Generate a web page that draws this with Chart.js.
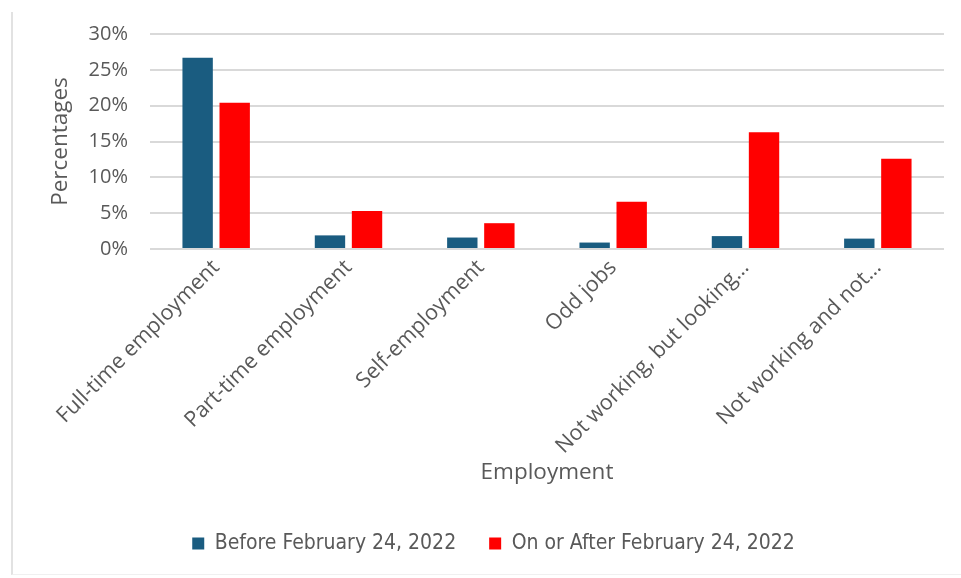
<!DOCTYPE html>
<html>
<head>
<meta charset="utf-8">
<script src="https://cdn.jsdelivr.net/npm/chart.js@4"></script>
<style>
  html, body { margin: 0; padding: 0; background: #fff; }
  #wrap { position: relative; width: 961px; height: 578px; }
  #frame { position: absolute; left: 11px; top: 12px; width: 960px; height: 563px; border-left: 2px solid #e2e2e2; border-bottom: 1px solid #f0f0f0; box-sizing: border-box; pointer-events: none; }
  canvas { position: absolute; left: 0; top: 0; }
</style>
</head>
<body>
<div id="wrap">
  <div id="frame"></div>
  <canvas id="c" width="961" height="578"></canvas>
</div>
<script>
const categories = [
  "Full-time employment",
  "Part-time employment",
  "Self-employment",
  "Odd jobs",
  "Not working, but looking\u2026",
  "Not working and not\u2026"
];
const seriesNames = ["Before February 24, 2022", "On or After February 24, 2022"];
const beforeValues = [26.7, 1.9, 1.6, 0.9, 1.8, 1.45];
const afterValues = [20.4, 5.3, 3.6, 6.6, 16.3, 12.6];
const yTicks = [0, 5, 10, 15, 20, 25, 30];

const tickColor = "#595959";
const baseFont = "'Open Sans', 'Liberation Sans', Arial, sans-serif";
const narrowFont = "'Liberation Sans Narrow', 'Arial Narrow', 'DejaVu Sans Condensed', sans-serif";

new Chart(document.getElementById("c"), {
  type: "bar",
  data: {
    labels: categories,
    datasets: [
      { label: seriesNames[0], data: beforeValues, backgroundColor: "#1A5C80", borderWidth: 0,
        barPercentage: 0.82, categoryPercentage: 0.56 },
      { label: seriesNames[1], data: afterValues, backgroundColor: "#FF0000", borderWidth: 0,
        barPercentage: 0.82, categoryPercentage: 0.56 }
    ]
  },
  options: {
    responsive: false,
    animation: false,
    devicePixelRatio: 1,
    layout: { padding: { left: 43, right: 17, top: 27, bottom: 14 } },
    plugins: {
      tooltip: { enabled: false },
      legend: {
        position: "bottom",
        labels: {
          boxWidth: 12, boxHeight: 12, padding: 33,
          color: tickColor,
          font: { family: narrowFont, size: 21 }
        }
      }
    },
    scales: {
      x: {
        grid: { display: false, drawTicks: false },
        border: { display: false },
        ticks: {
          color: tickColor, font: { family: baseFont, size: 21.5 },
          maxRotation: 45, minRotation: 45, padding: 6, autoSkip: false
        },
        title: {
          display: true, text: "Employment", color: tickColor,
          font: { family: baseFont, size: 22.5 }, padding: { top: 0, bottom: 14 }
        },
        afterFit: (s) => { s.height = 251; }
      },
      y: {
        min: 0, max: 30,
        grid: { color: "#d9d9d9", lineWidth: 2, drawTicks: false },
        border: { display: false },
        afterBuildTicks: (s) => { s.ticks = yTicks.map(v => ({ value: v })); },
        ticks: {
          color: tickColor, font: { family: baseFont, size: 20 }, padding: 22,
          callback: (v) => v + "%"
        },
        title: {
          display: true, text: "Percentages", color: tickColor,
          font: { family: baseFont, size: 22.5 }, padding: { top: 4, bottom: 0 }
        },
        afterFit: (s) => { s.width = 107; }
      }
    }
  }
});
</script>
</body>
</html>
